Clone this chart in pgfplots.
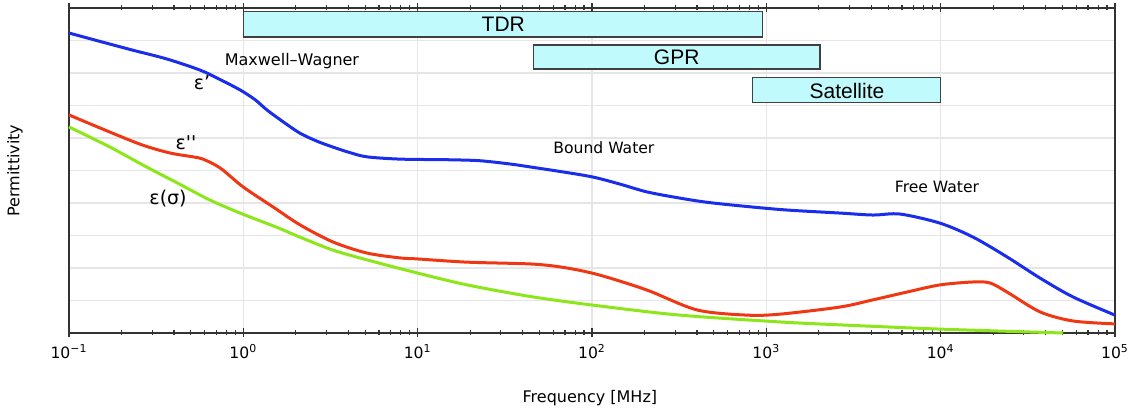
\documentclass[border=0pt]{standalone}
\usepackage{fontspec}
\setmainfont{DejaVu Sans}
\newfontfamily\helv{Liberation Sans}
\usepackage{pgfplots}
\pgfplotsset{compat=1.18}

\definecolor{cblue}{RGB}{25,45,235}
\definecolor{cred}{RGB}{240,55,20}
\definecolor{cgreen}{RGB}{140,230,25}
\definecolor{boxfill}{RGB}{192,250,252}
\definecolor{gridgray}{RGB}{230,230,230}

\begin{document}
\begin{tikzpicture}
\path[use as bounding box] (-34.5pt,-39pt) rectangle (535pt,166.5pt);
\begin{axis}[
    at={(0,0)}, anchor=south west,
    scale only axis,
    width=523pt, height=162.5pt,
    xmode=log, log basis x=10,
    xmin=0.1, xmax=1e5,
    ymin=0, ymax=10,
    xtick={0.1,1,10,100,1000,10000,100000},
    xticklabels={10\textsuperscript{−1},10\textsuperscript{0},10\textsuperscript{1},10\textsuperscript{2},10\textsuperscript{3},10\textsuperscript{4},10\textsuperscript{5}},
    minor xtick={0.2,0.3,0.4,0.5,0.6,0.7,0.8,0.9,2,3,4,5,6,7,8,9,20,30,40,50,60,70,80,90,200,300,400,500,600,700,800,900,2000,3000,4000,5000,6000,7000,8000,9000,20000,30000,40000,50000,60000,70000,80000,90000},
    ytick={0,1,2,3,4,5,6,7,8,9,10},
    yticklabels={},
    y tick style={draw=none},
    x tick style={black!80, line width=0.6pt},
    tick align=center,
    major tick length=4.5pt,
    minor tick length=2.5pt,
    xtick pos=both,
    grid=major,
    major grid style={gridgray, line width=0.6pt},
    axis line style={black!80, line width=0.7pt},
    xticklabel style={font=\fontsize{7.8}{9}\selectfont},
    xlabel={Frequency [MHz]},
    ylabel={Permittivity},
    xlabel style={font=\fontsize{8}{10}\selectfont, at={(axis description cs:0.498,-0.2)}, anchor=center},
    ylabel style={font=\fontsize{8}{10}\selectfont, at={(axis description cs:-0.0516,0.5)}, anchor=center},
    clip=false,
]
% frequency ranges of the methods
\addplot[fill=boxfill, draw=black!75, line width=0.6pt] coordinates {(1,9.11) (950,9.11) (950,9.88) (1,9.88)} --cycle;
\addplot[fill=boxfill, draw=black!75, line width=0.6pt] coordinates {(46,8.12) (2030,8.12) (2030,8.86) (46,8.86)} --cycle;
\addplot[fill=boxfill, draw=black!75, line width=0.6pt] coordinates {(830,7.08) (10000,7.08) (10000,7.85) (830,7.85)} --cycle;
\node[font=\helv\fontsize{10.5}{12}\selectfont] at (axis cs:31,9.49) {TDR};
\node[font=\helv\fontsize{10.5}{12}\selectfont] at (axis cs:306,8.49) {GPR};
\node[font=\helv\fontsize{10.5}{12}\selectfont] at (axis cs:2900,7.46) {Satellite};

% eps'
\addplot[cblue, line width=1.5pt, smooth] coordinates {
 (0.1,9.23) (0.151,8.97) (0.233,8.7) (0.365,8.43) (0.564,8.09) (0.735,7.8)
 (0.957,7.48) (1.167,7.18) (1.368,6.86) (1.69,6.5) (2.11,6.15) (2.65,5.9)
 (3.27,5.72) (4.09,5.55) (5.12,5.42) (7.93,5.35) (15.3,5.33) (22.8,5.3)
 (33.9,5.2) (44.1,5.11) (65.6,4.97) (101,4.8) (145,4.58) (207,4.34)
 (320,4.15) (494,4.0) (1197,3.8) (2650,3.69) (4090,3.63) (5850,3.66)
 (9910,3.38) (15350,2.95) (24040,2.34) (37150,1.69) (57400,1.11) (100000,0.55)
};
% eps''
\addplot[cred, line width=1.5pt, smooth] coordinates {
 (0.1,6.71) (0.172,6.18) (0.265,5.78) (0.379,5.54) (0.514,5.42) (0.587,5.35)
 (0.735,5.08) (1,4.49) (1.48,3.88) (2.11,3.33) (3.27,2.8) (5.12,2.46)
 (7.93,2.31) (9.9,2.28) (19.2,2.18) (45.9,2.12) (71.9,2.0) (111,1.78)
 (207,1.32) (400,0.71) (774,0.55) (1197,0.58) (2650,0.8) (4090,1.02)
 (6410,1.26) (9910,1.48) (15350,1.57) (19190,1.54) (24040,1.26) (37150,0.65)
 (57400,0.37) (100000,0.28)
};
% eps(sigma)
\addplot[cgreen, line width=1.5pt, smooth] coordinates {
 (0.1,6.34) (0.172,5.72) (0.265,5.17) (0.417,4.62) (0.644,4.09) (1,3.65)
 (1.56,3.25) (2.11,2.95) (3.27,2.55) (5.12,2.25) (9.9,1.85) (19.2,1.48)
 (45.9,1.11) (111,0.83) (320,0.55) (1197,0.34) (2650,0.25) (9910,0.12)
 (50350,0.0)
};

\node[font=\fontsize{8}{10}\selectfont] at (axis cs:1.90,8.37) {Maxwell–Wagner};
\node[font=\fontsize{7.8}{10}\selectfont] at (axis cs:117,5.69) {Bound Water};
\node[font=\fontsize{7.8}{10}\selectfont] at (axis cs:9530,4.49) {Free Water};
\node[font=\fontsize{9.5}{11}\selectfont] at (axis cs:0.58,7.69) {ε’};
\node[font=\fontsize{9.5}{11}\selectfont] at (axis cs:0.469,5.85) {ε\textquotesingle\textquotesingle};
\node[font=\fontsize{9.5}{11}\selectfont] at (axis cs:0.37,4.15) {ε(σ)};
\end{axis}
\end{tikzpicture}
\end{document}
